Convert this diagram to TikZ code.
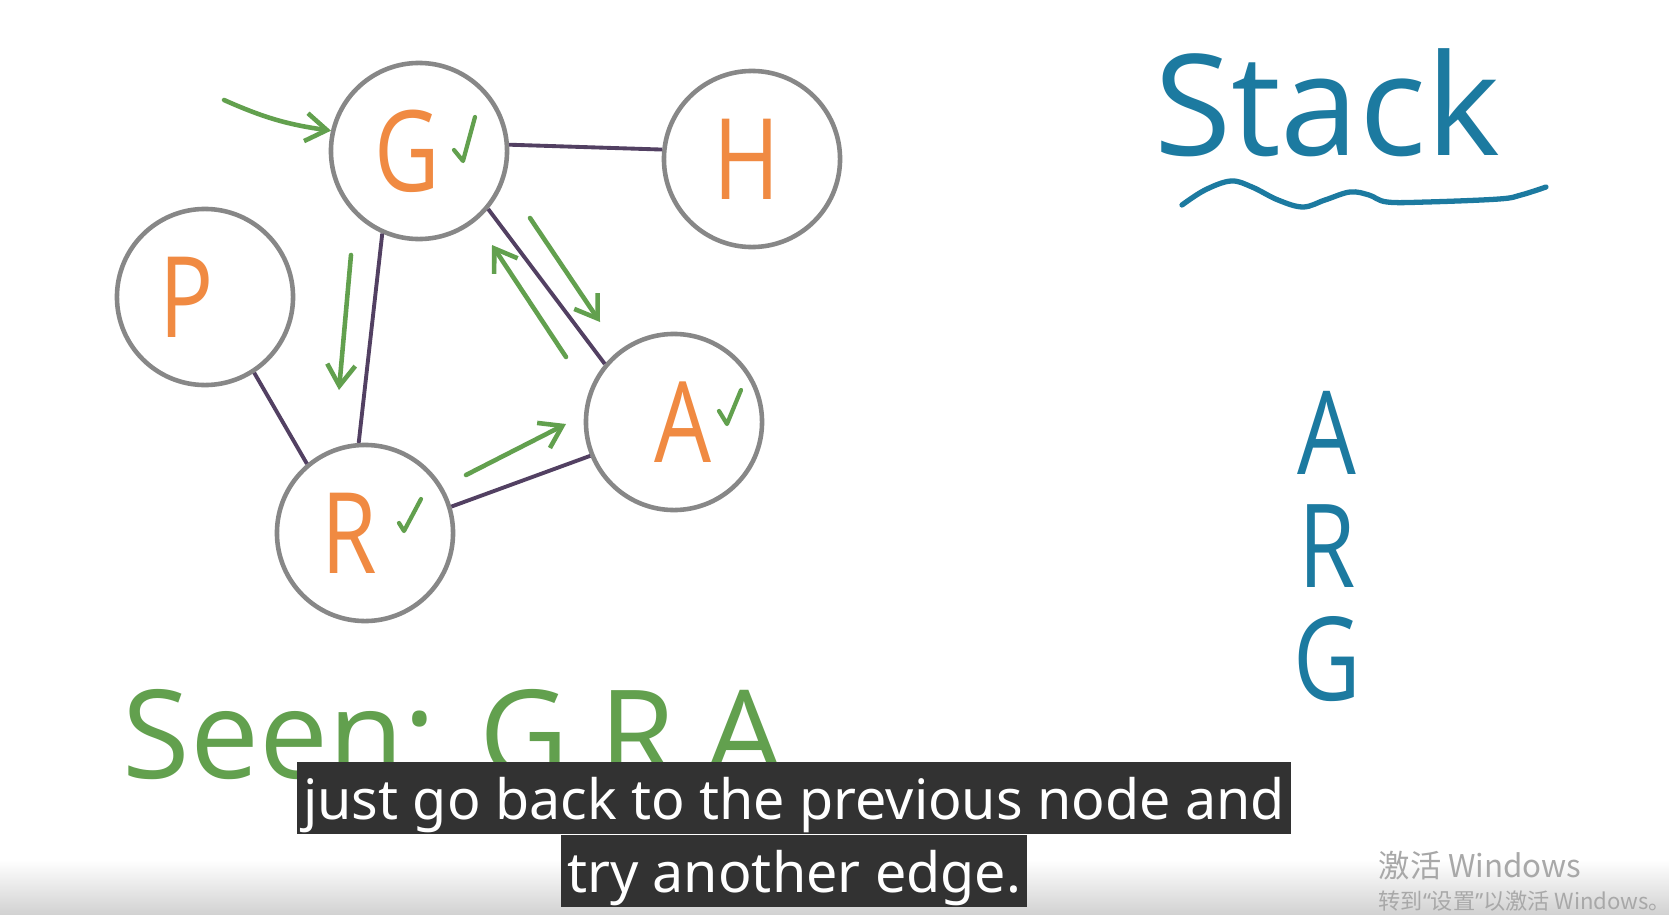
\documentclass[tikz,border=0pt]{standalone}
\usepackage{fontspec}
\setmainfont{Open Sans}
\newfontfamily\handfont{Open Sans}[FakeStretch=0.8]
\newfontfamily\subfont{Noto Sans}
\newfontfamily\cjkfont{Noto Sans CJK SC}
\usetikzlibrary{arrows.meta,positioning}

\definecolor{ringgray}{RGB}{135,135,135}
\definecolor{edgepurple}{RGB}{82,64,98}
\definecolor{walkgreen}{RGB}{98,160,78}
\definecolor{letterorange}{RGB}{240,138,66}
\definecolor{stackblue}{RGB}{28,122,160}
\definecolor{capgray}{RGB}{50,50,50}
\definecolor{wmgray}{RGB}{168,168,168}

\tikzstyle{vertex}=[circle,draw=ringgray,line width=1.3pt,minimum size=1.76cm,inner sep=0pt,text=letterorange,font=\handfont\fontsize{32}{32}\selectfont]
\tikzstyle{link}=[draw=edgepurple,line width=1.1pt]
\tikzstyle{walk}=[draw=walkgreen,line width=1.3pt,line cap=round,-{Straight Barb[length=6pt,width=8pt]}]
\tikzstyle{checkmark}=[draw=walkgreen,line width=1.2pt,line cap=round,line join=round]
\tikzstyle{stackitem}=[text=stackblue,font=\handfont\fontsize{33}{33}\selectfont,inner sep=0pt,text height=0.82cm,text depth=0pt]
\tikzstyle{caption}=[fill=capgray,text=white,font=\subfont\fontsize{15.8}{19}\selectfont,inner xsep=0.06cm,inner ysep=0pt,text height=0.57cm,text depth=0.15cm]
\tikzstyle{watermark}=[text=wmgray,anchor=west,inner sep=0pt]

\begin{document}
\begin{tikzpicture}[x=0.01cm,y=-0.01cm]
\useasboundingbox (0,0) rectangle (1669,915);
\fill[white] (0,0) rectangle (1669,915);
\shade[top color=white,bottom color=black!18] (0,860) rectangle (1669,915);

% graph
\node (g) [vertex] at (419,151) {G\hspace*{0.24cm}};
\node (h) [vertex] at (752,159) {H\hspace*{0.1cm}};
\node (p) [vertex] at (205,297) {P\hspace*{0.36cm}};
\node (a) [vertex] at (674,422) {\hspace*{0.18cm}A};
\node (r) [vertex] at (365,533) {R\hspace*{0.32cm}};

\draw [link] (g.4) -- (h.174);
\draw [link] (g.246) -- (r.94);
\draw [link] (g.320) -- (a.140);
\draw [link] (p.303) -- (r.130);
\draw [link] (r.17) -- (a.202);

% green walk
\coordinate (start) at (224,100);
\coordinate (gr1) at (351,255);
\coordinate (gr2) at (339,390);
\coordinate (ra1) at (466,475);
\coordinate (ra2) at (566,424);
\coordinate (ag1) at (566,357);
\coordinate (ag2) at (492,245);
\coordinate (ga1) at (530,218);
\coordinate (ga2) at (600,322);

\draw [walk] (start) to[bend right=8] (g.167);
\draw [walk] (gr1) -- (gr2);
\draw [walk] (ra1) -- (ra2);
\draw [walk] (ag1) -- (ag2);
\draw [walk] (ga1) -- (ga2);

% ticks
\draw [checkmark] ([shift={(35,-1)}]g.center) -- ++(9,11) -- ++(12,-44);
\draw [checkmark] ([shift={(34,-10)}]r.center) -- ++(5,8) -- ++(17,-32);
\draw [checkmark] ([shift={(45,-11)}]a.center) -- ++(8,13) -- ++(14,-34);

% stack
\node (stacktitle) [text=stackblue,font=\fontsize{40}{40}\selectfont,anchor=base,inner sep=0pt] at (1327,155) {Stack};
\draw [stackblue,line width=1.5pt,line cap=round] plot[smooth,tension=0.6] coordinates {(1182,205) (1205,190) (1231,181) (1252,187) (1278,200) (1303,207) (1325,200) (1350,192) (1369,195) (1387,202) (1427,202) (1499,199) (1521,195) (1546,187)};

\node (sa) [stackitem] at (1327,433) {A};
\node (sr) [stackitem,below=0.3cm of sa] {R};
\node (sg) [stackitem,below=0.3cm of sr] {G};

% seen
\node (seen) [text=walkgreen,font=\fontsize{35}{35}\selectfont,anchor=base west,inner sep=0pt] at (122,778) {Seen: G,R,A};

% subtitles
\node (cap1) [caption] at (794,798) {just go back to the previous node and};
\node (cap2) [caption,below=0pt of cap1] {try another edge.};

\node (wm1) [watermark,font=\cjkfont\fontsize{8.9}{10}\selectfont] at (1378,866) {激活 Windows};
\node (wm2) [watermark,font=\cjkfont\fontsize{6.3}{8}\selectfont] at (1378,901) {转到{\subfont“}设置{\subfont”}以激活 Windows。};

\end{tikzpicture}
\end{document}
